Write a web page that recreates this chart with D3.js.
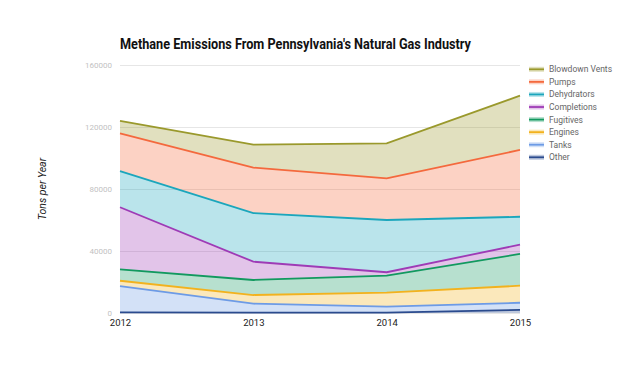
<!DOCTYPE html>
<meta charset="utf-8">
<style>
body { margin: 0; background: #fff; font-family: Roboto, sans-serif; }
</style>
<body>
<script src="https://cdn.jsdelivr.net/npm/d3@7"></script>
<script>

// data, tons per year
var years = [2012, 2013, 2014, 2015];
var other       = [400, 300, 300, 2000];
var tanks       = [17000, 5700, 3800, 4600];
var engines     = [3400, 5600, 9000, 11000];
var fugitives   = [7400, 9700, 11000, 20500];
var completions = [40000, 11800, 2200, 6000];
var dehydrators = [23400, 31400, 33700, 18000];
var pumps       = [24300, 29300, 26900, 43100];
var blowdown    = [8000, 14800, 22600, 35000];
var yTicks = [0, 40000, 80000, 120000, 160000];

// bottom to top
var series = [
  {name: "Other", values: other, color: "#2b4b8e"},
  {name: "Tanks", values: tanks, color: "#6d9be6"},
  {name: "Engines", values: engines, color: "#f2b21e"},
  {name: "Fugitives", values: fugitives, color: "#12995f"},
  {name: "Completions", values: completions, color: "#9e3bb6"},
  {name: "Dehydrators", values: dehydrators, color: "#1ba6bc"},
  {name: "Pumps", values: pumps, color: "#f4693d"},
  {name: "Blowdown Vents", values: blowdown, color: "#9a992c"}
];

var width = 640, height = 386;
var margin = {top: 65, right: 120, bottom: 73, left: 120};

var svg = d3.select("body").append("svg")
    .attr("width", width)
    .attr("height", height);

var x = d3.scaleLinear().domain([2012, 2015]).range([margin.left, width - margin.right]);
var y = d3.scaleLinear().domain([0, 160000]).range([height - margin.bottom, margin.top]);

// table for the stack
var table = years.map(function(yr, i) {
  var row = {year: yr};
  series.forEach(function(s) { row[s.name] = s.values[i]; });
  return row;
});
var stacked = d3.stack().keys(series.map(function(s) { return s.name; }))(table);

// grid
var yAxis = d3.axisLeft(y).tickValues(yTicks).tickSize(-(width - margin.left - margin.right)).tickFormat(d3.format("d"));
var gy = svg.append("g")
    .attr("transform", "translate(" + margin.left + ",0)")
    .call(yAxis);
gy.select(".domain").remove();
gy.selectAll(".tick line").attr("stroke", "#e6e6e6");
gy.selectAll(".tick text")
    .attr("x", -8)
    .attr("fill", "#c2c2c2")
    .style("font-size", "8px")
    .style("font-family", "Roboto");

// areas
var area = d3.area()
    .x(function(d) { return x(d.data.year); })
    .y0(function(d) { return y(d[0]); })
    .y1(function(d) { return y(d[1]); });
var line = d3.line()
    .x(function(d) { return x(d.data.year); })
    .y(function(d) { return y(d[1]); });

svg.selectAll(".area").data(stacked).enter()
  .append("path")
    .attr("class", "area")
    .attr("d", area)
    .attr("fill", function(d, i) { return series[i].color; })
    .attr("fill-opacity", 0.3);

svg.selectAll(".line").data(stacked).enter()
  .append("path")
    .attr("class", "line")
    .attr("d", line)
    .attr("fill", "none")
    .attr("stroke", function(d, i) { return series[i].color; })
    .attr("stroke-width", 1.8);

// x axis labels
var xAxis = d3.axisBottom(x).tickValues(years).tickSize(0).tickFormat(d3.format("d"));
var gx = svg.append("g")
    .attr("transform", "translate(0," + (height - margin.bottom) + ")")
    .call(xAxis);
gx.select(".domain").remove();
gx.selectAll(".tick text")
    .attr("dy", "1.05em")
    .attr("fill", "#222")
    .style("font-size", "9.5px")
    .style("font-family", "Roboto");

// title (reference font is narrower, squeeze it)
svg.append("text")
    .attr("x", 120)
    .attr("y", 49)
    .attr("fill", "#111")
    .attr("textLength", 351)
    .attr("lengthAdjust", "spacingAndGlyphs")
    .style("font-size", "14px")
    .style("font-weight", "bold")
    .style("font-family", "Roboto")
    .text("Methane Emissions From Pennsylvania's Natural Gas Industry");

// y title
svg.append("text")
    .attr("transform", "translate(46,189) rotate(-90)")
    .attr("text-anchor", "middle")
    .attr("fill", "#222")
    .style("font-size", "10.5px")
    .style("font-style", "italic")
    .style("font-family", "Roboto")
    .text("Tons per Year");

// legend, top entry first
var legend = svg.append("g");
var legendItems = series.slice().reverse();
legendItems.forEach(function(s, i) {
  var ly = 69.3 + i * 12.57;
  legend.append("rect")
      .attr("x", 529).attr("y", ly - 2.5)
      .attr("width", 15).attr("height", 5)
      .attr("fill", s.color).attr("fill-opacity", 0.3);
  legend.append("line")
      .attr("x1", 529).attr("x2", 544)
      .attr("y1", ly).attr("y2", ly)
      .attr("stroke", s.color).attr("stroke-width", 1.8);
  legend.append("text")
      .attr("x", 549).attr("y", ly + 3)
      .attr("fill", "#666")
      .style("font-size", "8.5px")
      .style("font-family", "Roboto")
      .text(s.name);
});

</script>
</body>
